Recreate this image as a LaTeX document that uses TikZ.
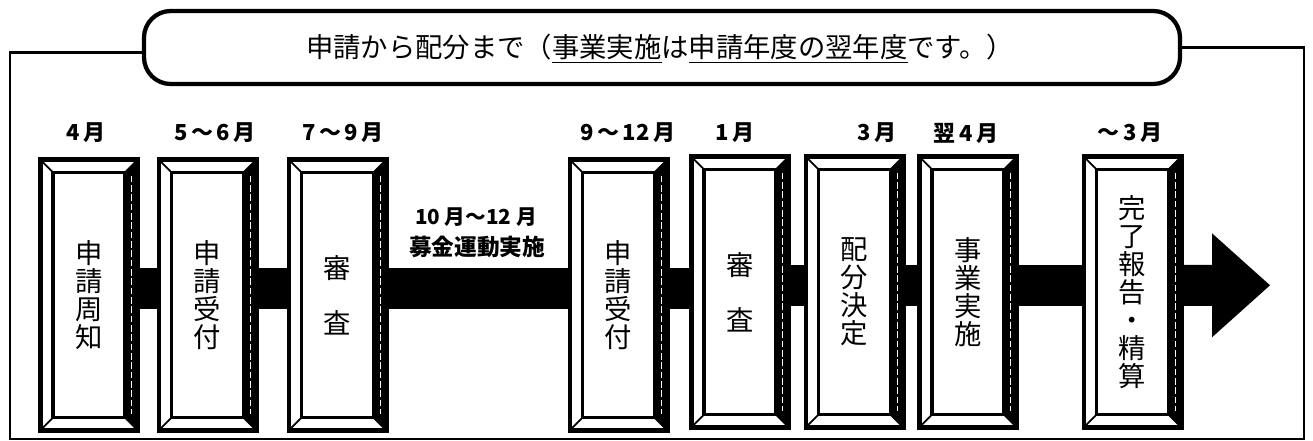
\documentclass[tikz,border=0pt]{standalone}
\usepackage{fontspec}
\newfontfamily\jp{Noto Sans CJK JP}
\usetikzlibrary{arrows.meta}
\newcommand\mgap{\hspace{2.5pt}}
\begin{document}
\begin{tikzpicture}[x=0.75pt,y=-0.75pt,
  stepbox/.style={draw, line width=3.5pt, fill=white, minimum width=73pt, minimum height=203pt,
    inner sep=0pt, align=center, font=\jp\fontsize{20.5}{21}\selectfont,
    path picture={
      \coordinate (pA) at (path picture bounding box.south west);
      \coordinate (pB) at (path picture bounding box.north east);
      \coordinate (pC) at (pA -| pB);
      \coordinate (pD) at (pA |- pB);
      \coordinate (iA) at ([shift={(9.5pt,9.5pt)}]pA);
      \coordinate (iB) at ([shift={(-9.5pt,-9.5pt)}]pB);
      \coordinate (iC) at ([shift={(-9.5pt,9.5pt)}]pC);
      \coordinate (iD) at ([shift={(9.5pt,-9.5pt)}]pD);
      \fill[black] (pB) -- (iB) -- (iC) -- (pC) -- cycle;
      \draw[white, line width=0.7pt, dash pattern=on 5pt off 2pt] ([shift={(-4.5pt,-12pt)}]pB) -- ([shift={(-4.5pt,12pt)}]pC);
      \draw[line width=1.3pt] (pA) -- (iA) (pD) -- (iD) (pB) -- (iB) (pC) -- (iC);
      \draw[line width=2.4pt] (iA) rectangle (iB);
    }},
  month/.style={font=\jp\bfseries\fontsize{16.5}{18}\selectfont, inner sep=0pt},
  bar/.style={line width=30.75pt},
  frame/.style={line width=2.2pt},
]
\fill[white] (0,0) rectangle (1313,441);
\useasboundingbox (0,0) rectangle (1313,441);

% title box and frame
\node[draw, line width=3.2pt, rounded corners=20pt, minimum width=777pt, minimum height=54.75pt, inner sep=0pt] (title) at (662,47.5) {};
\node[anchor=base west, inner sep=0pt] (ttext) at (306,58)
  {\jp\fontsize{20.5}{22}\selectfont 申請から配分まで\fontsize{20.5}{22}\selectfont （\underline{事業実施}は\underline{申請年度の翌年度}です。）};
\coordinate (bl) at (10,439);
\coordinate (br) at (1304,439);
\draw[frame] ([yshift=-3.5pt]title.west) -| (bl) -- (br) |- (title.east);

% month labels
\node[month] (m1) at (86,133) {4\mgap 月};
\node[month] (m2) at (215,133) {5\mgap～\mgap 6\mgap 月};
\node[month] (m3) at (343,133) {7\mgap～\mgap 9\mgap 月};
\node[month] (m4) at (628,133) {9\mgap～\mgap 12\mgap 月};
\node[month] (m5) at (735,133) {1\mgap 月};
\node[month] (m6) at (877,133) {3\mgap 月};
\node[month] (m7) at (966,133) {翌\mgap 4\mgap 月};
\node[month] (m8) at (1130,133) {～\mgap 3\mgap 月};

% campaign label
\node[inner sep=0pt, font=\jp\bfseries\fontsize{15.5}{16}\selectfont] (camp1) at (476,217) {10 月～12 月};
\node[inner sep=0pt, font=\jp\bfseries\fontsize{17}{18}\selectfont] (camp2) at (477,247) {募金運動実施};

% step boxes
\node[stepbox] (b1) at (89,295) {申\\請\\周\\知};
\node[stepbox] (b2) at (207.5,295) {申\\請\\受\\付};
\node[stepbox] (b3) at (337.5,295) {審\\[20pt]査};
\node[stepbox] (b4) at (618.5,295) {申\\請\\受\\付};
\node[stepbox] (b5) at (740,292) {審\\[20pt]査};
\node[stepbox] (b6) at (854.5,292) {配\\分\\決\\定};
\node[stepbox] (b7) at (968,292) {事\\業\\実\\施};
\node[stepbox] (b8) at (1132.5,292) {完\\了\\報\\告\\・\\精\\算};

% connecting bars
\draw[bar] ([yshift=5pt]b1.east) -- ([yshift=5pt]b1.east -| b2.west);
\draw[bar] ([yshift=5pt]b2.east) -- ([yshift=5pt]b2.east -| b3.west);
\draw[bar] ([yshift=5pt]b3.east) -- ([yshift=5pt]b3.east -| b4.west);
\draw[bar] ([yshift=5pt]b4.east) -- ([yshift=5pt]b4.east -| b5.west);
\draw[bar] ([yshift=5pt]b5.east) -- ([yshift=5pt]b5.east -| b6.west);
\draw[bar] ([yshift=5pt]b6.east) -- ([yshift=5pt]b6.east -| b7.west);
\draw[bar] ([yshift=5pt]b7.east) -- ([yshift=5pt]b7.east -| b8.west);

% final arrow
\coordinate (neck) at (1212,285.3);
\coordinate (tip) at (1270,285.3);
\draw[bar] ([yshift=5pt]b8.east) -- ([xshift=1pt]neck);
\fill ([yshift=39pt]neck) -- (tip) -- ([yshift=-39pt]neck) -- cycle;
\end{tikzpicture}
\end{document}
